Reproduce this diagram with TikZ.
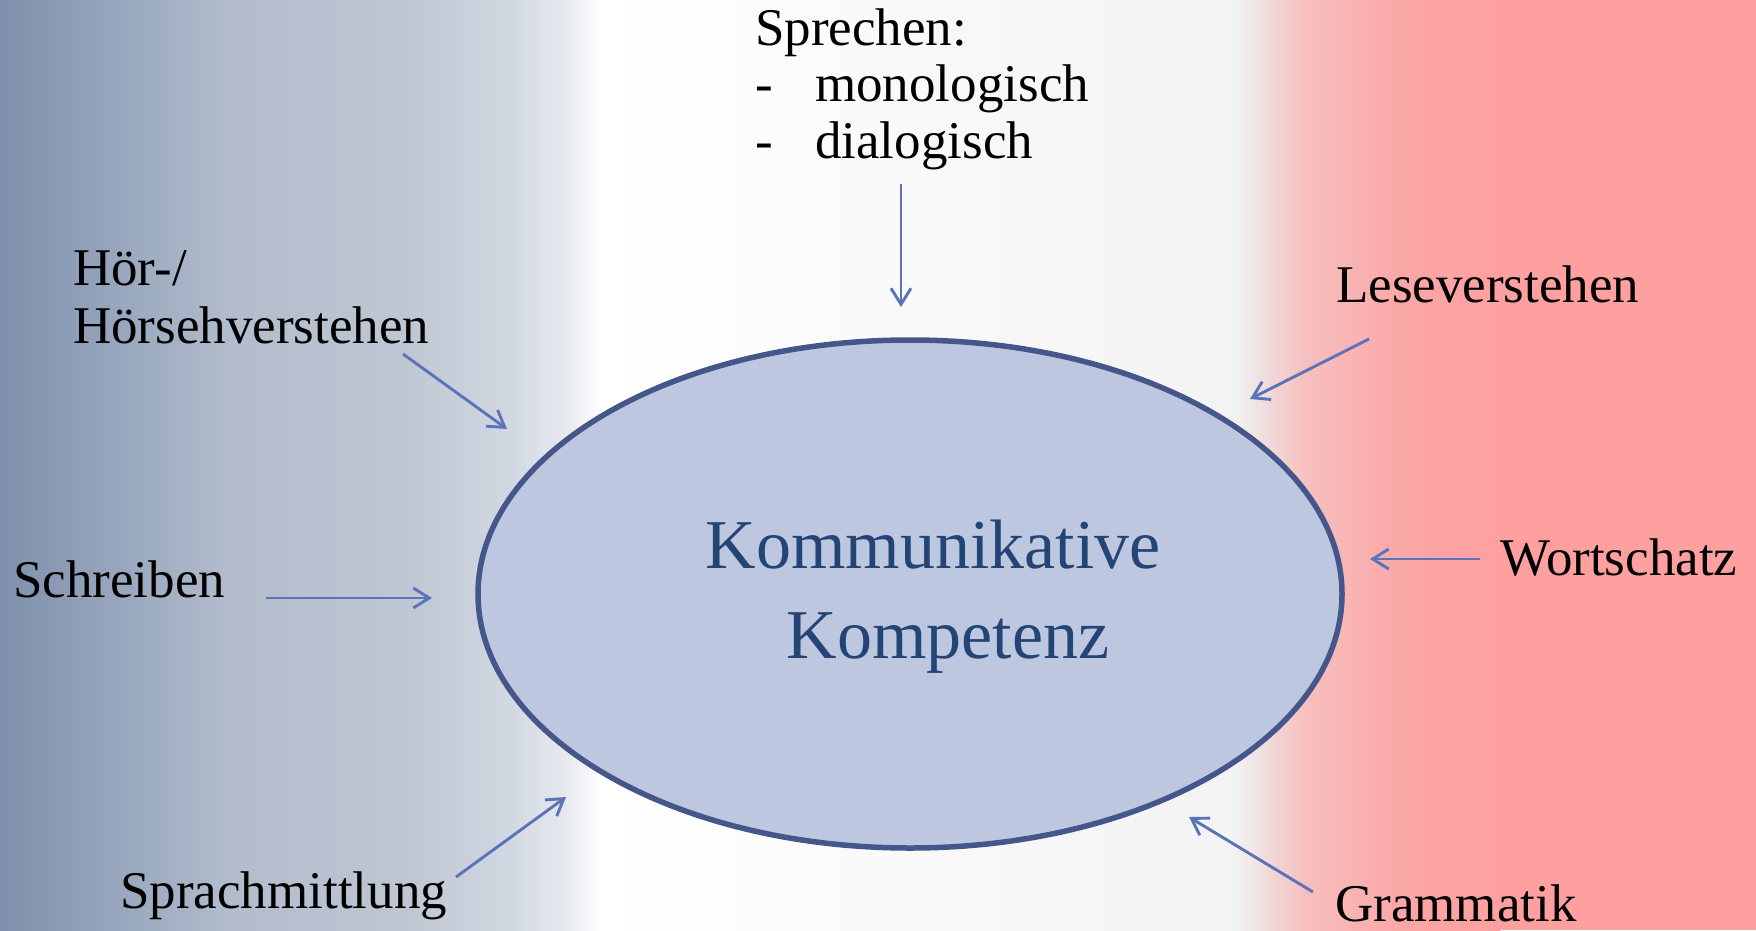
\documentclass[tikz,border=0pt]{standalone}
\usepackage{fontspec}
\setmainfont{Liberation Serif}
\usetikzlibrary{arrows.meta,shapes.geometric}
\definecolor{bgA}{HTML}{7F90AC}
\definecolor{bgB}{HTML}{9AA9BF}
\definecolor{bgC}{HTML}{B2BCCC}
\definecolor{bgD}{HTML}{BFC7D3}
\definecolor{bgE}{HTML}{D2D8E2}
\definecolor{bgF}{HTML}{E8EBF0}
\definecolor{bgG}{HTML}{F3F3F3}
\definecolor{bgH}{HTML}{F0DCDC}
\definecolor{bgI}{HTML}{F7BFBF}
\definecolor{bgJ}{HTML}{FBA6A6}
\definecolor{bgK}{HTML}{FEA0A0}
\definecolor{ellfill}{HTML}{BDC8E0}
\definecolor{elldraw}{HTML}{44568A}
\definecolor{arrowblue}{HTML}{5B73B9}
\definecolor{titleblue}{HTML}{254476}
\tikzset{
  lbl/.style={anchor=base west, inner sep=0pt, font=\fontsize{53}{58}\selectfont, text=black},
  conn/.style={draw=arrowblue, line width=2.9pt, -{Straight Barb[length=16pt, width=20pt, line width=2.9pt]}}
}
\begin{document}
\begin{tikzpicture}[x=1pt,y=-1pt]
\useasboundingbox (0,0) rectangle (1756,930);
% background
\fill[left color=bgA, right color=bgB] (0,0) rectangle (130.5,930);
\fill[left color=bgB, right color=bgC] (130,0) rectangle (230.5,930);
\fill[left color=bgC, right color=bgD] (230,0) rectangle (410.5,930);
\fill[left color=bgD, right color=bgE] (410,0) rectangle (510.5,930);
\fill[left color=bgE, right color=bgF] (510,0) rectangle (570.5,930);
\fill[left color=bgF, right color=white] (570,0) rectangle (600.5,930);
\fill[left color=white, right color=bgG] (600,0) rectangle (1235.5,930);
\fill[left color=bgG, right color=bgH] (1235,0) rectangle (1265.5,930);
\fill[left color=bgH, right color=bgI] (1265,0) rectangle (1305.5,930);
\fill[left color=bgI, right color=bgJ] (1305,0) rectangle (1405.5,930);
\fill[left color=bgJ, right color=bgK] (1405,0) rectangle (1500.5,930);
\fill[bgK] (1500,0) rectangle (1756,930);
% ellipse
\node (kk) [ellipse, draw=elldraw, fill=ellfill, line width=5.5pt, minimum width=864pt, minimum height=508pt, inner sep=0pt] at (910,594) {};
\node (kktext) [align=center, text=titleblue, font=\fontsize{70}{90}\selectfont, inner sep=0pt, anchor=base] at (948,658) {Kommunikative\makebox[30pt]{}\\Kompetenz};
% labels
\node (spr) [lbl, align=left, font=\fontsize{53}{56.5}\selectfont] at (755,158) {Sprechen:\\\makebox[60pt][l]{-}monologisch\\\makebox[60pt][l]{-}dialogisch};
\node (hoer) [lbl, align=left] at (73,343) {Hör-/\\Hörsehverstehen};
\node (schr) [lbl] at (13,597) {Schreiben};
\node (smit) [lbl] at (120,908) {Sprachmittlung};
\node (lese) [lbl] at (1336,302) {Leseverstehen};
\node (wort) [lbl] at (1500,575) {Wortschatz};
\node (gram) [lbl] at (1335,921) {Grammatik};
% connector coordinates
\coordinate (sprS) at (901,184); \coordinate (sprE) at (901,307);
\coordinate (hoerS) at (403,354); \coordinate (hoerE) at (507,429);
\coordinate (schrS) at (266,598); \coordinate (schrE) at (432,598);
\coordinate (smitS) at (456,877); \coordinate (smitE) at (566,797);
\coordinate (leseS) at (1369,339); \coordinate (leseE) at (1250,399);
\coordinate (wortS) at (1480,559); \coordinate (wortE) at (1370,559);
\coordinate (gramS) at (1313,892); \coordinate (gramE) at (1189,817);
\draw[conn] (sprS) -- (sprE);
\draw[conn] (hoerS) -- (hoerE);
\draw[conn] (schrS) -- (schrE);
\draw[conn] (smitS) -- (smitE);
\draw[conn] (leseS) -- (leseE);
\draw[conn] (wortS) -- (wortE);
\draw[conn] (gramS) -- (gramE);
\end{tikzpicture}
\end{document}
